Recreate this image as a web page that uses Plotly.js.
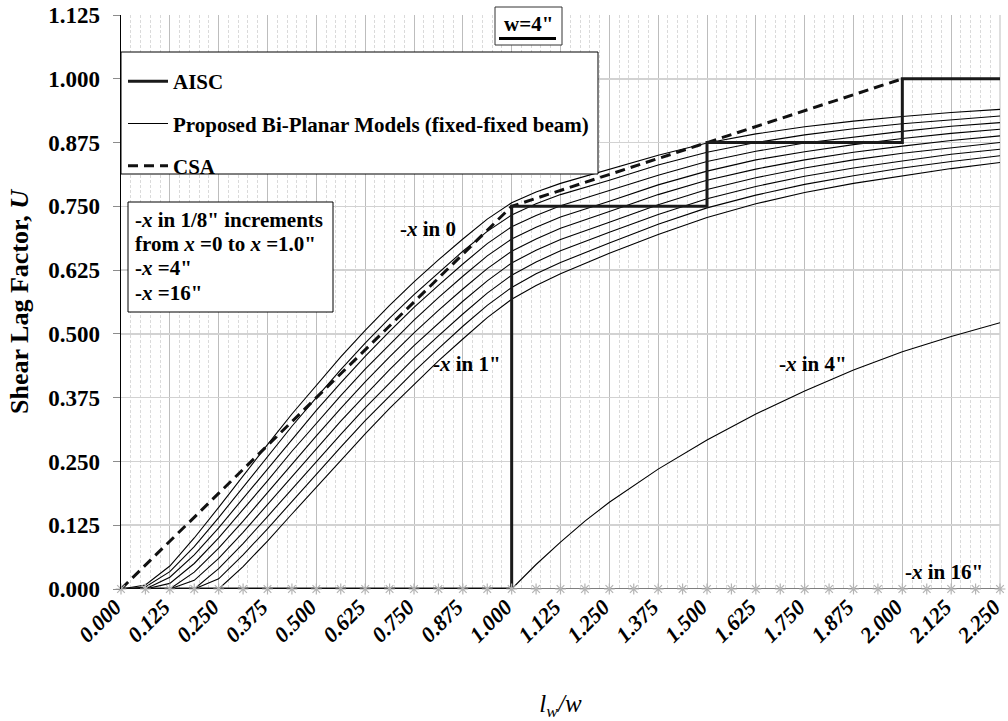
<!DOCTYPE html>
<html>
<head>
<meta charset="utf-8">
<script src="https://cdn.plot.ly/plotly-3.0.1.min.js"></script>
<style>
  html, body { margin: 0; padding: 0; background: #fff; }
  #chart { width: 1008px; height: 721px; }
</style>
</head>
<body>
<div id="chart"></div>
<script>
// l_w / w values at which the bi-planar curves are tabulated
const lw = [0, 0.0625, 0.125, 0.1875, 0.25, 0.3125, 0.375, 0.4375, 0.5, 0.5625, 0.625, 0.6875,
            0.75, 0.8125, 0.875, 0.9375, 1.0, 1.0625, 1.125, 1.25, 1.375, 1.5, 1.625, 1.75, 1.875,
            2.0, 2.125, 2.25];

// Proposed bi-planar model, fixed-fixed beam, x-bar = 0 ... 1.0" in 1/8" steps
const uX0000 = [0, 0.008, 0.045, 0.100, 0.160, 0.222, 0.283, 0.343, 0.400, 0.455, 0.507, 0.556, 0.602, 0.645, 0.686, 0.725, 0.757, 0.778, 0.795, 0.822, 0.850, 0.874, 0.892, 0.906, 0.917, 0.926, 0.934, 0.940];
const uX0125 = [0, 0.004, 0.034, 0.083, 0.140, 0.200, 0.259, 0.319, 0.375, 0.430, 0.482, 0.531, 0.577, 0.620, 0.662, 0.701, 0.733, 0.755, 0.773, 0.801, 0.831, 0.856, 0.875, 0.890, 0.902, 0.912, 0.920, 0.927];
const uX0250 = [0, 0, 0.023, 0.067, 0.120, 0.178, 0.236, 0.294, 0.350, 0.404, 0.456, 0.505, 0.552, 0.595, 0.637, 0.677, 0.710, 0.732, 0.751, 0.781, 0.811, 0.838, 0.858, 0.874, 0.886, 0.897, 0.907, 0.914];
const uX0375 = [0, 0, 0.011, 0.050, 0.100, 0.155, 0.212, 0.270, 0.325, 0.379, 0.431, 0.480, 0.527, 0.571, 0.613, 0.653, 0.686, 0.709, 0.729, 0.760, 0.792, 0.819, 0.841, 0.857, 0.871, 0.883, 0.893, 0.901];
const uX0500 = [0, 0, 0, 0.033, 0.080, 0.133, 0.189, 0.245, 0.300, 0.354, 0.406, 0.455, 0.502, 0.546, 0.588, 0.628, 0.662, 0.686, 0.707, 0.740, 0.773, 0.801, 0.823, 0.841, 0.856, 0.868, 0.879, 0.888];
const uX0625 = [0, 0, 0, 0.017, 0.060, 0.111, 0.165, 0.221, 0.275, 0.329, 0.380, 0.430, 0.477, 0.521, 0.564, 0.604, 0.639, 0.664, 0.685, 0.719, 0.753, 0.783, 0.806, 0.825, 0.841, 0.854, 0.865, 0.875];
const uX0750 = [0, 0, 0, 0, 0.040, 0.089, 0.142, 0.196, 0.250, 0.303, 0.355, 0.404, 0.452, 0.496, 0.539, 0.580, 0.615, 0.641, 0.663, 0.699, 0.734, 0.765, 0.789, 0.809, 0.825, 0.839, 0.852, 0.862];
const uX0875 = [0, 0, 0, 0, 0.020, 0.067, 0.118, 0.172, 0.225, 0.278, 0.330, 0.379, 0.426, 0.471, 0.515, 0.556, 0.591, 0.618, 0.640, 0.678, 0.715, 0.747, 0.772, 0.793, 0.810, 0.825, 0.838, 0.849];
const uX1000 = [0, 0, 0, 0, 0, 0.044, 0.094, 0.147, 0.200, 0.253, 0.304, 0.354, 0.401, 0.447, 0.490, 0.532, 0.568, 0.595, 0.618, 0.658, 0.695, 0.728, 0.755, 0.777, 0.795, 0.810, 0.824, 0.836];

// x-bar = 4"
const lw4 = [1.0, 1.0625, 1.125, 1.1875, 1.25, 1.375, 1.5, 1.625, 1.75, 1.875, 2.0, 2.125, 2.25];
const uX4 = [0, 0.048, 0.092, 0.133, 0.170, 0.235, 0.292, 0.343, 0.388, 0.429, 0.465, 0.495, 0.522];

// x-bar = 16"
const lw16 = [0, 0.0625, 0.125, 0.1875, 0.25, 0.3125, 0.375, 0.4375, 0.5, 0.5625, 0.625, 0.6875,
              0.75, 0.8125, 0.875, 0.9375, 1.0, 1.0625, 1.125, 1.1875, 1.25, 1.3125, 1.375, 1.4375,
              1.5, 1.5625, 1.625, 1.6875, 1.75, 1.8125, 1.875, 1.9375, 2.0, 2.0625, 2.125, 2.1875, 2.25];
const uX16 = [0, 0, 0, 0, 0, 0, 0, 0, 0, 0, 0, 0, 0, 0, 0, 0, 0, 0, 0, 0, 0, 0, 0, 0, 0, 0, 0, 0, 0, 0, 0, 0, 0, 0, 0, 0, 0];

// AISC step values
const lwAISC = [0, 1.0, 1.0, 1.5, 1.5, 2.0, 2.0, 2.25];
const uAISC  = [0, 0, 0.75, 0.75, 0.875, 0.875, 1.0, 1.0];

// CSA
const lwCSA = [0, 1.0, 1.5, 2.0];
const uCSA  = [0, 0.75, 0.875, 1.0];

// axis ticks
const xTicks = [0, 0.125, 0.25, 0.375, 0.5, 0.625, 0.75, 0.875, 1.0, 1.125, 1.25, 1.375, 1.5,
                1.625, 1.75, 1.875, 2.0, 2.125, 2.25];
const yTicks = [0, 0.125, 0.25, 0.375, 0.5, 0.625, 0.75, 0.875, 1.0, 1.125];

const FONT = '"Liberation Serif", "Times New Roman", Times, serif';

const proposedSets = [uX0000, uX0125, uX0250, uX0375, uX0500, uX0625, uX0750, uX0875, uX1000];

const traces = [];
proposedSets.forEach((u, i) => {
  traces.push({
    x: lw, y: u, type: 'scatter', mode: 'lines',
    line: {color: '#000', width: 1.1},
    name: 'Proposed Bi-Planar Models (fixed-fixed beam)',
    legendgroup: 'prop', legendrank: 2,
    showlegend: i === 0, hoverinfo: 'skip'
  });
});
traces.push({
  x: lw4, y: uX4, type: 'scatter', mode: 'lines',
  line: {color: '#000', width: 1.1}, showlegend: false, hoverinfo: 'skip'
});
traces.push({
  x: lwCSA, y: uCSA, type: 'scatter', mode: 'lines',
  line: {color: '#111', width: 3, dash: '10px,6px'},
  name: 'CSA', legendgroup: 'csa', legendrank: 3, hoverinfo: 'skip'
});
traces.push({
  x: lwAISC, y: uAISC, type: 'scatter', mode: 'lines',
  line: {color: '#1a1a1a', width: 3},
  name: 'AISC', legendgroup: 'aisc', legendrank: 1, hoverinfo: 'skip'
});
traces.push({
  x: lw16, y: uX16, type: 'scatter', mode: 'lines+markers',
  line: {color: '#000', width: 1.1},
  marker: {symbol: 'asterisk-open', size: 9, color: '#b4b4b4', line: {color: '#b4b4b4', width: 1.2}},
  showlegend: false, hoverinfo: 'skip', cliponaxis: false
});

// plot area in pixels: left 121, right 1000, top 15, bottom 589
const PL = 121, PR = 1000, PT = 15, PB = 589;
const px = v => (v - PL) / (PR - PL);
const py = v => (PB - v) / (PB - PT);

const labelFont = {family: FONT, size: 21, color: '#000', weight: 'bold'};

const annotations = [
  {xref: 'x', yref: 'y', x: 0.786, y: 0.706, text: '-<i>x</i> in 0', showarrow: false, font: labelFont},
  {xref: 'x', yref: 'y', x: 0.886, y: 0.441, text: '-<i>x</i> in 1"', showarrow: false, font: labelFont},
  {xref: 'x', yref: 'y', x: 1.771, y: 0.441, text: '-<i>x</i> in 4"', showarrow: false, font: labelFont},
  {xref: 'x', yref: 'y', x: 2.107, y: 0.033, text: '-<i>x</i> in 16"', showarrow: false, font: labelFont},
  // notes box
  {xref: 'paper', yref: 'paper', x: px(133), y: py(220), xanchor: 'left', yanchor: 'middle', showarrow: false, font: labelFont,
   text: '-<i>x</i> in 1/8" increments'},
  {xref: 'paper', yref: 'paper', x: px(133), y: py(244), xanchor: 'left', yanchor: 'middle', showarrow: false, font: labelFont,
   text: 'from <i>x</i> =0 to <i>x</i> =1.0"'},
  {xref: 'paper', yref: 'paper', x: px(133), y: py(268), xanchor: 'left', yanchor: 'middle', showarrow: false, font: labelFont,
   text: '-<i>x</i> =4"'},
  {xref: 'paper', yref: 'paper', x: px(133), y: py(293), xanchor: 'left', yanchor: 'middle', showarrow: false, font: labelFont,
   text: '-<i>x</i> =16"'},
  // width tag
  {xref: 'paper', yref: 'paper', x: px(528), y: py(24), xanchor: 'center', yanchor: 'middle', showarrow: false, font: labelFont,
   text: 'w=4"'}
];

const shapes = [
  // right edge of the plot frame
  {type: 'line', xref: 'paper', yref: 'paper', x0: 1, x1: 1, y0: 0, y1: 1,
   line: {color: '#bdbdbd', width: 1}, layer: 'between'},
  // legend frame
  {type: 'rect', xref: 'paper', yref: 'paper', x0: px(121), x1: px(598), y0: py(174), y1: py(52),
   line: {color: '#000', width: 1}, fillcolor: '#fff', layer: 'above'},
  // notes frame
  {type: 'rect', xref: 'paper', yref: 'paper', x0: px(128), x1: px(333), y0: py(312), y1: py(202),
   line: {color: '#000', width: 1}, fillcolor: '#fff', layer: 'above'},
  // width tag frame and underline
  {type: 'rect', xref: 'paper', yref: 'paper', x0: px(495), x1: px(562), y0: py(45), y1: py(7),
   line: {color: '#333', width: 1}, fillcolor: '#fff', layer: 'above'},
  {type: 'line', xref: 'paper', yref: 'paper', x0: px(499), x1: px(556), y0: py(38.5), y1: py(38.5),
   line: {color: '#000', width: 3}, layer: 'above'}
];

const layout = {
  width: 1008, height: 721,
  margin: {l: 121, r: 8, t: 15, b: 132},
  paper_bgcolor: '#fff', plot_bgcolor: '#fff',
  font: {family: FONT, color: '#000'},
  showlegend: true,
  legend: {
    x: px(123), y: py(61), xanchor: 'left', yanchor: 'top',
    bgcolor: 'rgba(0,0,0,0)', borderwidth: 0,
    font: {family: FONT, size: 21, color: '#000', weight: 'bold'},
    tracegroupgap: 12, traceorder: 'grouped', itemwidth: 40
  },
  xaxis: {
    range: [0, 2.25], tickvals: xTicks, tickformat: '.3f',
    tickangle: -45, ticklabeloverflow: 'allow', ticklabelshift: -6,
    tickfont: {family: FONT, size: 22, color: '#000', weight: 'bold', style: 'italic'},
    showgrid: true, gridcolor: '#bdbdbd', gridwidth: 1,
    minor: {dtick: 0.025, showgrid: true, gridcolor: '#dadada', griddash: '3px,2px', gridwidth: 1},
    zeroline: false, showline: false, ticks: '',
    title: {text: '<i>l</i><sub><i>w</i></sub><i>/w</i>', font: {family: FONT, size: 25, color: '#000'}, standoff: 52},
    fixedrange: true
  },
  yaxis: {
    range: [0, 1.125], tickvals: yTicks, tickformat: '.3f',
    tickfont: {family: FONT, size: 23, color: '#000', weight: 'bold'},
    ticks: 'outside', ticklen: 7, tickcolor: '#8c8c8c', ticklabelstandoff: 8,
    showline: true, linecolor: '#000', linewidth: 1.5,
    showgrid: true, gridcolor: '#d2d2d2', gridwidth: 1.5,
    zeroline: false,
    title: {text: 'Shear Lag Factor, <i>U</i>', font: {family: FONT, size: 26, color: '#000', weight: 'bold'}, standoff: 12},
    fixedrange: true
  },
  annotations: annotations,
  shapes: shapes
};

Plotly.newPlot('chart', traces, layout, {displayModeBar: false, staticPlot: true});
</script>
</body>
</html>
